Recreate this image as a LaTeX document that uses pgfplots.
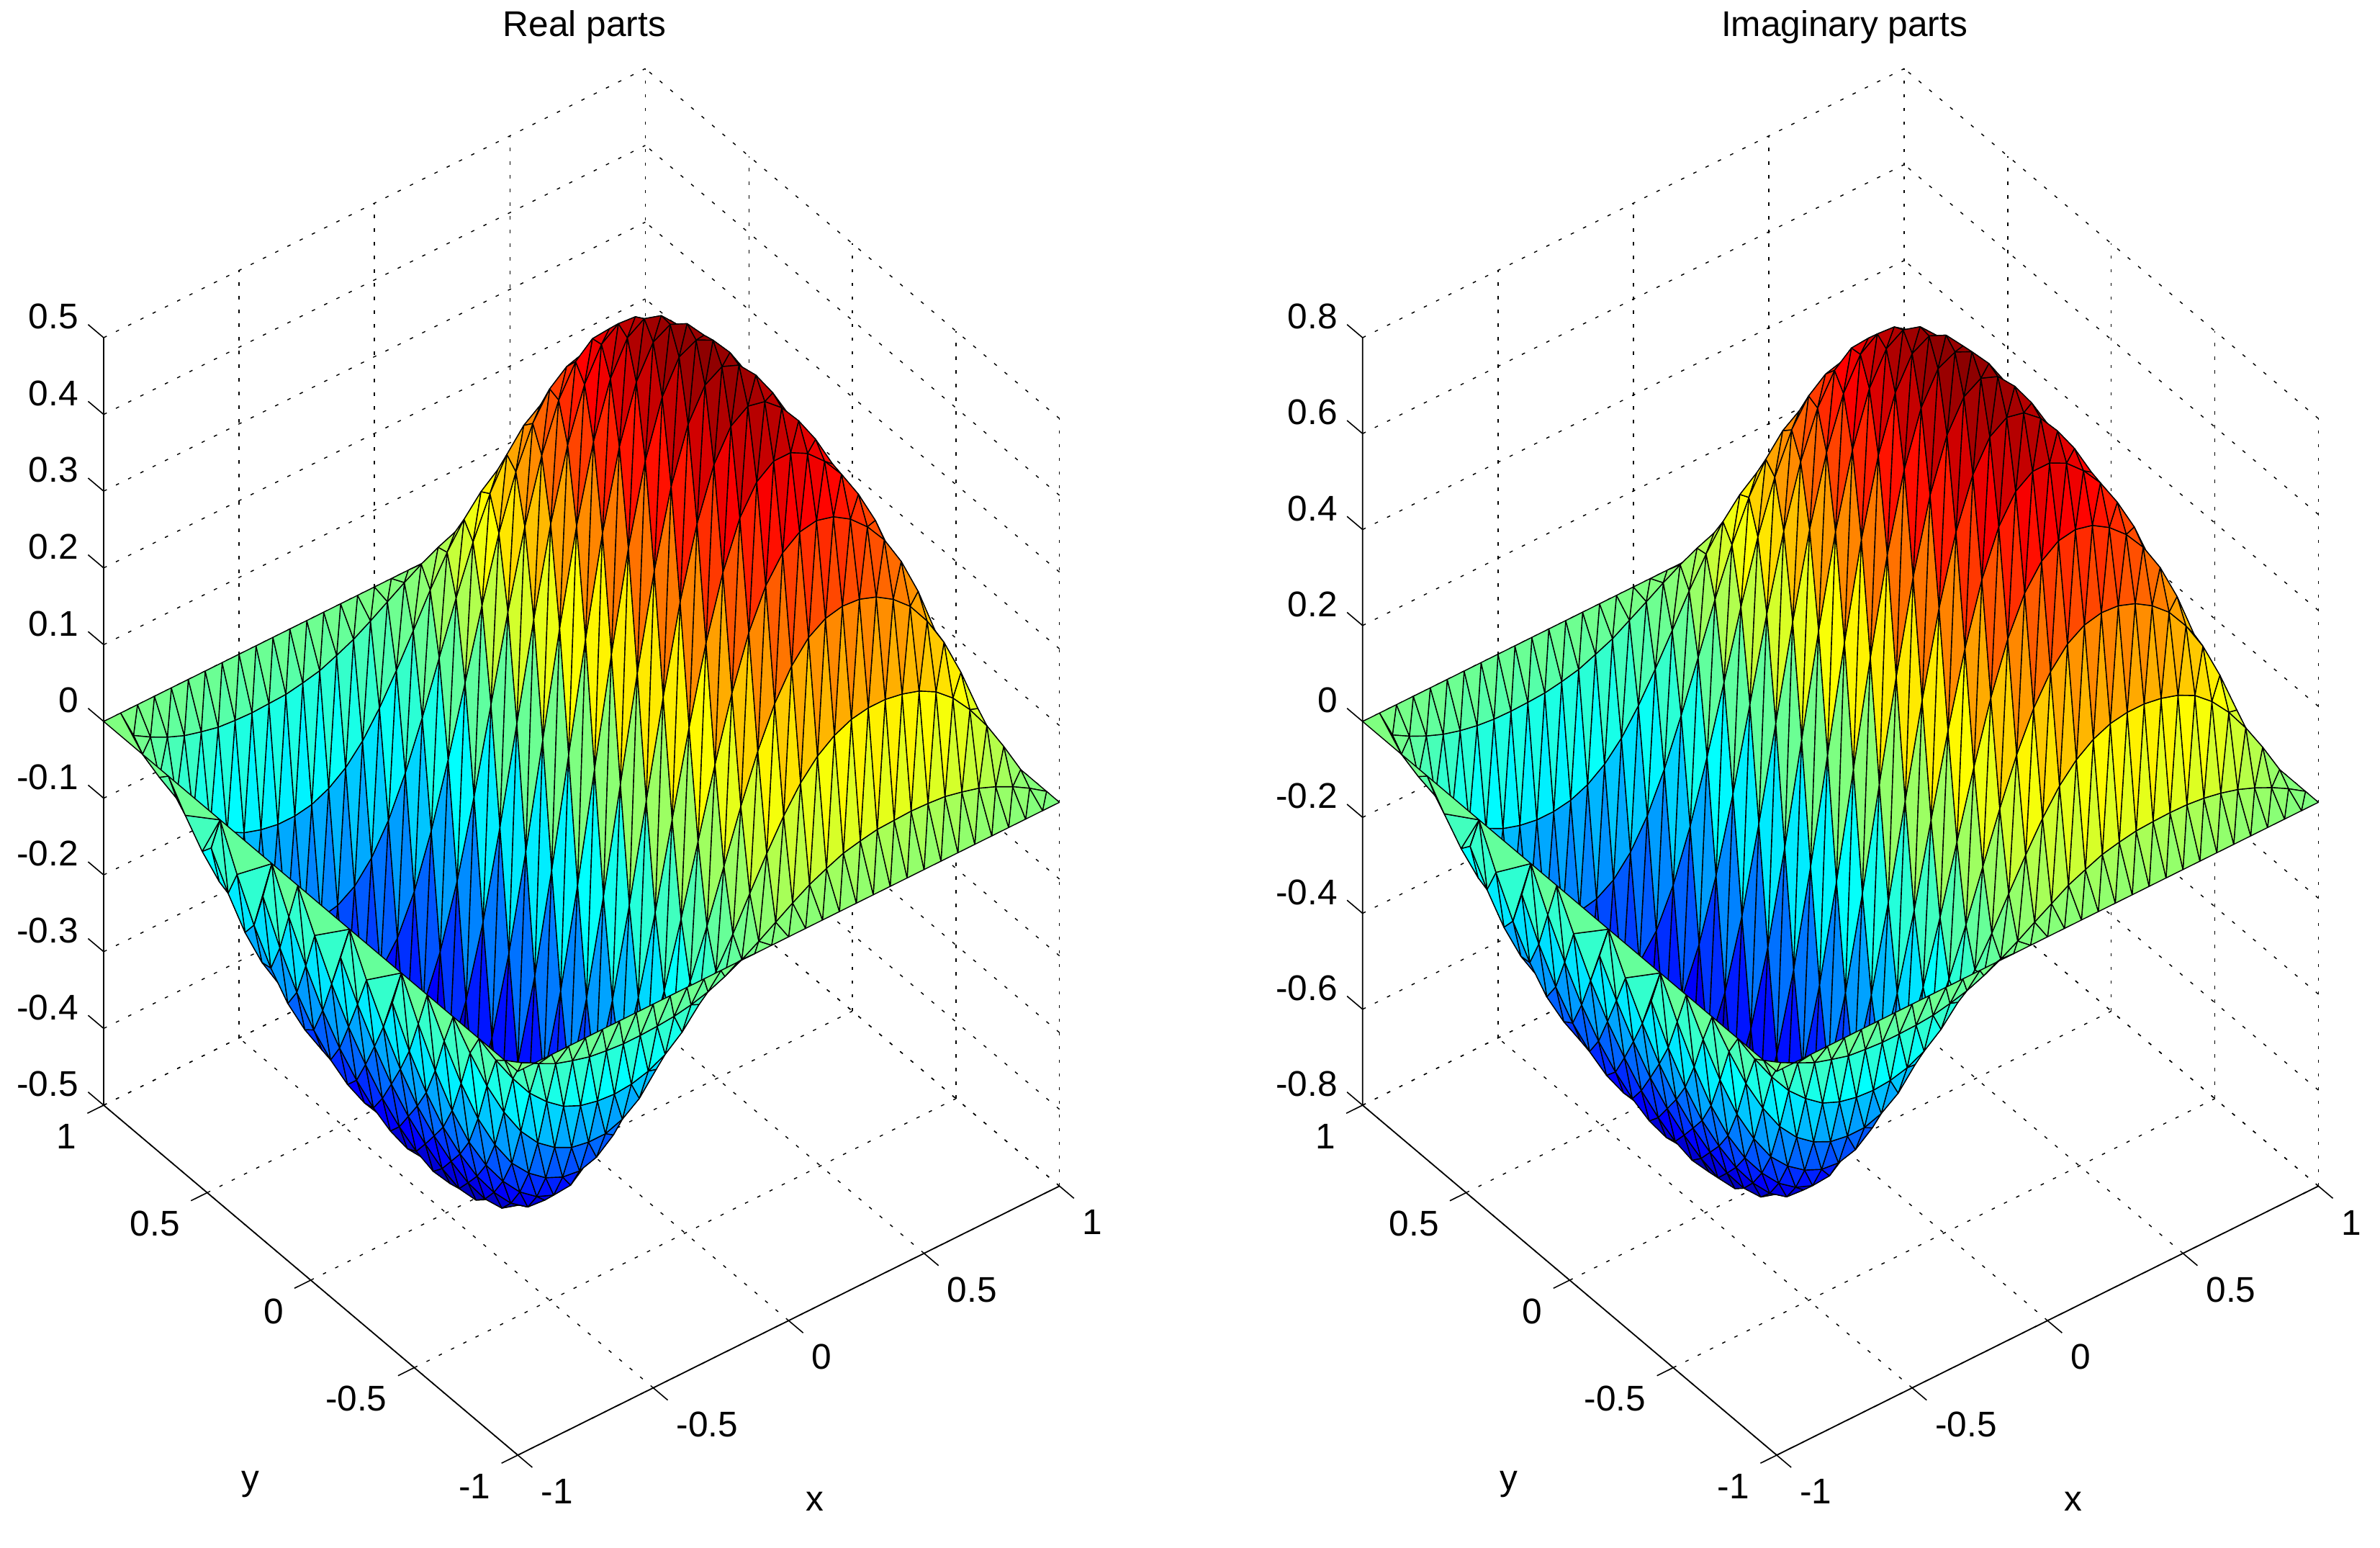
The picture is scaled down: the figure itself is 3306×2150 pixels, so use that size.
\documentclass[border=0pt]{standalone}
\usepackage{fontspec}
\setmainfont{Liberation Sans}
\usepackage{pgfplots}
\usepackage{pgfplotstable}
\pgfplotsset{compat=1.18}

% connectivity of the mesh, far corner first so that the fold hides correctly
\def\tris{}
\def\nd#1#2{\the\numexpr33*(#2)+(#1)\relax}
\def\addtri#1#2#3#4#5#6{\xdef\tris{\unexpanded\expandafter{\tris}\nd{#1}{#2} \nd{#3}{#4} \nd{#5}{#6}\noexpand\\}}
\foreach \r in {16,15,...,0}{%
  \pgfmathtruncatemacro\s{\r+1}%
  \ifnum\r=16 \def\edgeband{1}\else\ifnum\r=0 \def\edgeband{1}\else\def\edgeband{0}\fi\fi
  \if1\edgeband
    \foreach \a in {31,30,...,0}{%
      \pgfmathtruncatemacro\b{\a+1}%
      \addtri{\a}{\s}{\b}{\s}{\a}{\r}%
      \addtri{\b}{\r}{\b}{\s}{\a}{\r}%
    }%
  \else
    \addtri{31}{\r}{32}{\r}{32}{\s}%
    \foreach \a in {30,29,...,0}{%
      \pgfmathtruncatemacro\b{\a+1}\pgfmathtruncatemacro\c{\a+2}%
      \addtri{\a}{\r}{\b}{\s}{\c}{\s}%
      \addtri{\a}{\r}{\b}{\r}{\c}{\s}%
    }%
    \addtri{0}{\r}{0}{\s}{1}{\s}%
  \fi
}
\edef\triopt{\noexpand\pgfplotsset{tri/.style={patch table={\unexpanded\expandafter{\tris}}}}}
\triopt

% heights of the real part, one block of 33 values per mesh row, y rising
\pgfplotstableread{
z
0
0
0
0
0
0
0
0
0
0
0
0
0
0
0
0
0
0
0
0
0
0
0
0
0
0
0
0
0
0
0
0
0
0
-0.014
-0.026
-0.037
-0.044
-0.050
-0.053
-0.055
-0.055
-0.054
-0.052
-0.048
-0.042
-0.033
-0.022
-0.009
0.005
0.019
0.032
0.042
0.051
0.056
0.060
0.061
0.062
0.061
0.059
0.054
0.048
0.039
0.028
0.015
0
0
-0.039
-0.074
-0.104
-0.126
-0.143
-0.153
-0.158
-0.160
-0.158
-0.152
-0.141
-0.123
-0.098
-0.066
-0.028
0.014
0.055
0.093
0.125
0.149
0.165
0.175
0.179
0.179
0.175
0.168
0.156
0.137
0.111
0.079
0.041
0
0
-0.058
-0.112
-0.157
-0.193
-0.219
-0.236
-0.247
-0.251
-0.251
-0.243
-0.227
-0.200
-0.160
-0.108
-0.046
0.021
0.088
0.149
0.200
0.238
0.264
0.278
0.283
0.281
0.273
0.259
0.239
0.209
0.170
0.120
0.062
0
0
-0.071
-0.137
-0.194
-0.239
-0.274
-0.298
-0.315
-0.325
-0.328
-0.321
-0.303
-0.269
-0.217
-0.148
-0.065
0.025
0.114
0.196
0.264
0.314
0.346
0.362
0.366
0.360
0.346
0.325
0.297
0.258
0.208
0.146
0.076
0
0
-0.077
-0.149
-0.212
-0.264
-0.305
-0.337
-0.362
-0.379
-0.388
-0.386
-0.367
-0.328
-0.267
-0.185
-0.085
0.025
0.134
0.233
0.314
0.374
0.410
0.426
0.426
0.414
0.393
0.365
0.328
0.283
0.226
0.159
0.082
0
0
-0.078
-0.152
-0.217
-0.273
-0.319
-0.359
-0.391
-0.416
-0.432
-0.434
-0.418
-0.377
-0.309
-0.217
-0.104
0.021
0.145
0.258
0.349
0.415
0.454
0.469
0.464
0.445
0.417
0.382
0.339
0.289
0.229
0.160
0.082
0
0
-0.077
-0.149
-0.215
-0.274
-0.324
-0.368
-0.407
-0.439
-0.462
-0.469
-0.455
-0.413
-0.342
-0.243
-0.121
0.014
0.148
0.270
0.369
0.439
0.479
0.492
0.483
0.459
0.425
0.384
0.337
0.284
0.224
0.155
0.080
0
0
-0.076
-0.148
-0.214
-0.274
-0.327
-0.374
-0.417
-0.454
-0.480
-0.490
-0.478
-0.437
-0.364
-0.262
-0.135
0.005
0.144
0.271
0.374
0.446
0.487
0.498
0.487
0.460
0.423
0.380
0.332
0.277
0.217
0.150
0.076
0
0
-0.076
-0.150
-0.217
-0.277
-0.332
-0.380
-0.423
-0.460
-0.487
-0.498
-0.487
-0.446
-0.374
-0.271
-0.144
-0.005
0.135
0.262
0.364
0.437
0.478
0.490
0.480
0.454
0.417
0.374
0.327
0.274
0.214
0.148
0.076
0
0
-0.080
-0.155
-0.224
-0.284
-0.337
-0.384
-0.425
-0.459
-0.483
-0.492
-0.479
-0.439
-0.369
-0.270
-0.148
-0.014
0.121
0.243
0.342
0.413
0.455
0.469
0.462
0.439
0.407
0.368
0.324
0.274
0.215
0.149
0.077
0
0
-0.082
-0.160
-0.229
-0.289
-0.339
-0.382
-0.417
-0.445
-0.464
-0.469
-0.454
-0.415
-0.349
-0.258
-0.145
-0.021
0.104
0.217
0.309
0.377
0.418
0.434
0.432
0.416
0.391
0.359
0.319
0.273
0.217
0.152
0.078
0
0
-0.082
-0.159
-0.226
-0.283
-0.328
-0.365
-0.393
-0.414
-0.426
-0.426
-0.410
-0.374
-0.314
-0.233
-0.134
-0.025
0.085
0.185
0.267
0.328
0.367
0.386
0.388
0.379
0.362
0.337
0.305
0.264
0.212
0.149
0.077
0
0
-0.076
-0.146
-0.208
-0.258
-0.297
-0.325
-0.346
-0.360
-0.366
-0.362
-0.346
-0.314
-0.264
-0.196
-0.114
-0.025
0.065
0.148
0.217
0.269
0.303
0.321
0.328
0.325
0.315
0.298
0.274
0.239
0.194
0.137
0.071
0
0
-0.062
-0.120
-0.170
-0.209
-0.239
-0.259
-0.273
-0.281
-0.283
-0.278
-0.264
-0.238
-0.200
-0.149
-0.088
-0.021
0.046
0.108
0.160
0.200
0.227
0.243
0.251
0.251
0.247
0.236
0.219
0.193
0.157
0.112
0.058
0
0
-0.041
-0.079
-0.111
-0.137
-0.156
-0.168
-0.175
-0.179
-0.179
-0.175
-0.165
-0.149
-0.125
-0.093
-0.055
-0.014
0.028
0.066
0.098
0.123
0.141
0.152
0.158
0.160
0.158
0.153
0.143
0.126
0.104
0.074
0.039
0
0
-0.015
-0.028
-0.039
-0.048
-0.054
-0.059
-0.061
-0.062
-0.061
-0.060
-0.056
-0.051
-0.042
-0.032
-0.019
-0.005
0.009
0.022
0.033
0.042
0.048
0.052
0.054
0.055
0.055
0.053
0.050
0.044
0.037
0.026
0.014
0
0
0
0
0
0
0
0
0
0
0
0
0
0
0
0
0
0
0
0
0
0
0
0
0
0
0
0
0
0
0
0
0
0
}\zreal

% heights of the imaginary part, same order
\pgfplotstableread{
z
0
0
0
0
0
0
0
0
0
0
0
0
0
0
0
0
0
0
0
0
0
0
0
0
0
0
0
0
0
0
0
0
0
0
-0.022
-0.040
-0.057
-0.068
-0.078
-0.082
-0.085
-0.085
-0.084
-0.081
-0.074
-0.065
-0.051
-0.034
-0.014
0.008
0.029
0.050
0.065
0.079
0.087
0.093
0.095
0.096
0.095
0.091
0.084
0.074
0.060
0.043
0.023
0
0
-0.060
-0.115
-0.161
-0.195
-0.222
-0.237
-0.245
-0.248
-0.245
-0.236
-0.219
-0.191
-0.152
-0.102
-0.043
0.022
0.085
0.144
0.194
0.231
0.256
0.271
0.277
0.277
0.271
0.260
0.242
0.212
0.172
0.122
0.064
0
0
-0.090
-0.174
-0.243
-0.299
-0.339
-0.366
-0.383
-0.389
-0.389
-0.377
-0.352
-0.310
-0.248
-0.167
-0.071
0.033
0.136
0.231
0.310
0.369
0.409
0.431
0.439
0.436
0.423
0.401
0.370
0.324
0.264
0.186
0.096
0
0
-0.110
-0.212
-0.301
-0.370
-0.425
-0.462
-0.488
-0.504
-0.508
-0.498
-0.470
-0.417
-0.336
-0.229
-0.101
0.039
0.177
0.304
0.409
0.487
0.536
0.561
0.567
0.558
0.536
0.504
0.460
0.400
0.322
0.226
0.118
0
0
-0.119
-0.231
-0.329
-0.409
-0.473
-0.522
-0.561
-0.587
-0.601
-0.598
-0.569
-0.508
-0.414
-0.287
-0.132
0.039
0.208
0.361
0.487
0.580
0.636
0.660
0.660
0.642
0.609
0.566
0.508
0.439
0.350
0.246
0.127
0
0
-0.121
-0.236
-0.336
-0.423
-0.494
-0.556
-0.606
-0.645
-0.670
-0.673
-0.648
-0.584
-0.479
-0.336
-0.161
0.033
0.225
0.400
0.541
0.643
0.704
0.727
0.719
0.690
0.646
0.592
0.525
0.448
0.355
0.248
0.127
0
0
-0.119
-0.231
-0.333
-0.425
-0.502
-0.570
-0.631
-0.680
-0.716
-0.727
-0.705
-0.640
-0.530
-0.377
-0.188
0.022
0.229
0.419
0.572
0.680
0.742
0.763
0.749
0.711
0.659
0.595
0.522
0.440
0.347
0.240
0.124
0
0
-0.118
-0.229
-0.332
-0.425
-0.507
-0.580
-0.646
-0.704
-0.744
-0.760
-0.741
-0.677
-0.564
-0.406
-0.209
0.008
0.223
0.420
0.580
0.691
0.755
0.772
0.755
0.713
0.656
0.589
0.515
0.429
0.336
0.233
0.118
0
0
-0.118
-0.233
-0.336
-0.429
-0.515
-0.589
-0.656
-0.713
-0.755
-0.772
-0.755
-0.691
-0.580
-0.420
-0.223
-0.008
0.209
0.406
0.564
0.677
0.741
0.760
0.744
0.704
0.646
0.580
0.507
0.425
0.332
0.229
0.118
0
0
-0.124
-0.240
-0.347
-0.440
-0.522
-0.595
-0.659
-0.711
-0.749
-0.763
-0.742
-0.680
-0.572
-0.419
-0.229
-0.022
0.188
0.377
0.530
0.640
0.705
0.727
0.716
0.680
0.631
0.570
0.502
0.425
0.333
0.231
0.119
0
0
-0.127
-0.248
-0.355
-0.448
-0.525
-0.592
-0.646
-0.690
-0.719
-0.727
-0.704
-0.643
-0.541
-0.400
-0.225
-0.033
0.161
0.336
0.479
0.584
0.648
0.673
0.670
0.645
0.606
0.556
0.494
0.423
0.336
0.236
0.121
0
0
-0.127
-0.246
-0.350
-0.439
-0.508
-0.566
-0.609
-0.642
-0.660
-0.660
-0.636
-0.580
-0.487
-0.361
-0.208
-0.039
0.132
0.287
0.414
0.508
0.569
0.598
0.601
0.587
0.561
0.522
0.473
0.409
0.329
0.231
0.119
0
0
-0.118
-0.226
-0.322
-0.400
-0.460
-0.504
-0.536
-0.558
-0.567
-0.561
-0.536
-0.487
-0.409
-0.304
-0.177
-0.039
0.101
0.229
0.336
0.417
0.470
0.498
0.508
0.504
0.488
0.462
0.425
0.370
0.301
0.212
0.110
0
0
-0.096
-0.186
-0.264
-0.324
-0.370
-0.401
-0.423
-0.436
-0.439
-0.431
-0.409
-0.369
-0.310
-0.231
-0.136
-0.033
0.071
0.167
0.248
0.310
0.352
0.377
0.389
0.389
0.383
0.366
0.339
0.299
0.243
0.174
0.090
0
0
-0.064
-0.122
-0.172
-0.212
-0.242
-0.260
-0.271
-0.277
-0.277
-0.271
-0.256
-0.231
-0.194
-0.144
-0.085
-0.022
0.043
0.102
0.152
0.191
0.219
0.236
0.245
0.248
0.245
0.237
0.222
0.195
0.161
0.115
0.060
0
0
-0.023
-0.043
-0.060
-0.074
-0.084
-0.091
-0.095
-0.096
-0.095
-0.093
-0.087
-0.079
-0.065
-0.050
-0.029
-0.008
0.014
0.034
0.051
0.065
0.074
0.081
0.084
0.085
0.085
0.082
0.078
0.068
0.057
0.040
0.022
0
0
0
0
0
0
0
0
0
0
0
0
0
0
0
0
0
0
0
0
0
0
0
0
0
0
0
0
0
0
0
0
0
0
}\zimag

\pgfplotstablecreatecol[create col/expr={-1+mod(\pgfplotstablerow,33)/16}]{x}\zreal
\pgfplotstablecreatecol[create col/expr={min(1,max(-1,-1+(2*floor(\pgfplotstablerow/33)-1)/16))}]{y}\zreal
\pgfplotstablecreatecol[create col/expr={-1+mod(\pgfplotstablerow,33)/16}]{x}\zimag
\pgfplotstablecreatecol[create col/expr={min(1,max(-1,-1+(2*floor(\pgfplotstablerow/33)-1)/16))}]{y}\zimag

\pgfplotsset{
  colormap={mjet}{rgb=(0,0,0.5) rgb=(0,0,1) rgb=(0,0.5,1) rgb=(0,1,1) rgb=(0.5,1,0.5) rgb=(1,1,0) rgb=(1,0.5,0) rgb=(1,0,0) rgb=(0.5,0,0)},
  panel/.style={
    anchor=origin, colormap name=mjet,
    x={(94.05pt,46.71pt)}, y={(-71.91pt,60.75pt)},
    xmin=-1, xmax=1, ymin=-1, ymax=1,
    xtick={-1,-0.5,0,0.5,1}, ytick={-1,-0.5,0,0.5,1},
    xticklabels={-1,-0.5,0,0.5,1}, yticklabels={-1,-0.5,0,0.5,1},
    grid=major,
    grid style={black, line width=.35pt, dash pattern=on 1.2pt off 3.55pt},
    axis line style={draw=none},
    tick style={draw=none},
    tick align=outside, major tick length=6.9pt,
    tick label style={font=\fontsize{12.4}{14}\selectfont, inner sep=0pt},
    xticklabel style={anchor=west, xshift=2.6pt, yshift=-8.2pt},
    yticklabel style={anchor=east, xshift=-3.1pt, yshift=-7.7pt},
    zticklabel style={anchor=east, xshift=-3.3pt, yshift=2.9pt},
    clip=false,
  },
  meshplot/.style={
    patch, patch type=triangle, shader=faceted, faceted color=black,
    line width=.35pt, table/row sep=\\, tri, point meta=z,
  },
}
\newcommand\xyticks[1]{%
  \pgfplotsinvokeforeach{-1,-0.5,0,0.5,1}{%
    \draw[line width=.4pt] (axis cs:##1,-1,#1) -- (axis cs:##1,-1.07,#1);
    \draw[line width=.4pt] (axis cs:-1,##1,#1) -- (axis cs:-1.06,##1,#1);
  }%
}

\begin{document}
\begin{tikzpicture}[x=.25pt,y=-.25pt]
\path[use as bounding box] (0,0) rectangle (3306,2150);

\begin{axis}[panel, at={(201.96pt,-264.54pt)},
    z={(0pt,266.5pt)}, zmin=-0.5, zmax=0.5,
    ztick={-0.5,-0.4,-0.3,-0.2,-0.1,0,0.1,0.2,0.3,0.4,0.5},
    zticklabels={-0.5,-0.4,-0.3,-0.2,-0.1,0,0.1,0.2,0.3,0.4,0.5},
    point meta min=-0.502, point meta max=0.502]
\addplot3[meshplot] table[x=x, y=y, z=z] {\zreal};
\draw[line width=.45pt] (axis cs:-1,-1,-0.5) -- (axis cs:1,-1,-0.5);
\draw[line width=.45pt] (axis cs:-1,-1,-0.5) -- (axis cs:-1,1,-0.5) -- (axis cs:-1,1,0.5);
\xyticks{-0.5}
\pgfplotsinvokeforeach{-0.5,-0.4,-0.3,-0.2,-0.1,0,0.1,0.2,0.3,0.4,0.5}{%
  \draw[line width=.4pt] (axis cs:-1,1,#1) -- (axis cs:-1,1.075,#1);
}
\end{axis}

\begin{axis}[panel, at={(639.14pt,-264.54pt)},
    z={(0pt,166.56pt)}, zmin=-0.8, zmax=0.8,
    ztick={-0.8,-0.6,-0.4,-0.2,0,0.2,0.4,0.6,0.8},
    zticklabels={-0.8,-0.6,-0.4,-0.2,0,0.2,0.4,0.6,0.8},
    point meta min=-0.775, point meta max=0.775]
\addplot3[meshplot] table[x=x, y=y, z=z] {\zimag};
\draw[line width=.45pt] (axis cs:-1,-1,-0.8) -- (axis cs:1,-1,-0.8);
\draw[line width=.45pt] (axis cs:-1,-1,-0.8) -- (axis cs:-1,1,-0.8) -- (axis cs:-1,1,0.8);
\xyticks{-0.8}
\pgfplotsinvokeforeach{-0.8,-0.6,-0.4,-0.2,0,0.2,0.4,0.6,0.8}{%
  \draw[line width=.4pt] (axis cs:-1,1,#1) -- (axis cs:-1,1.075,#1);
}
\end{axis}

\node[font=\fontsize{12.4}{14}\selectfont] at (812,38) {Real parts};
\node[font=\fontsize{12.4}{14}\selectfont] at (2562,38) {Imaginary parts};
\node[font=\fontsize{12.4}{14}\selectfont] at (1132,2085) {x};
\node[font=\fontsize{12.4}{14}\selectfont] at (348,2062) {y};
\node[font=\fontsize{12.4}{14}\selectfont] at (2880,2085) {x};
\node[font=\fontsize{12.4}{14}\selectfont] at (2096,2062) {y};
\end{tikzpicture}
\end{document}
